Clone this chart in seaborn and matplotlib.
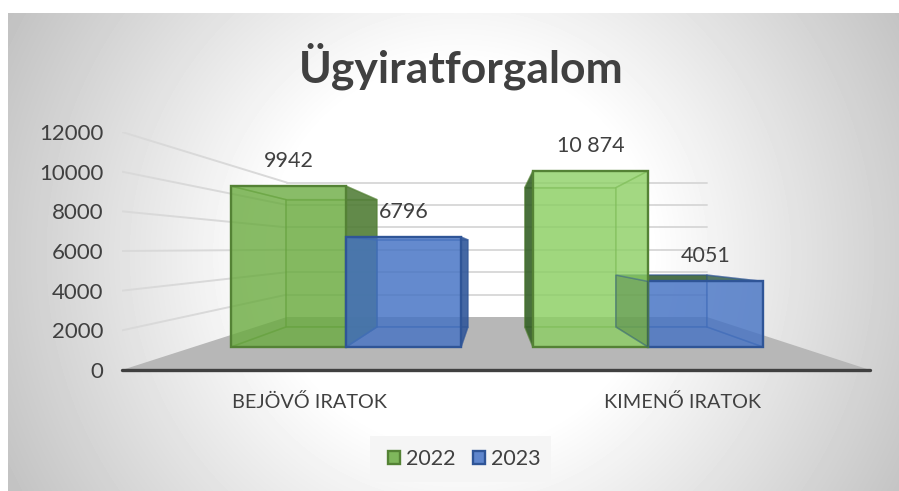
import numpy as np
import pandas as pd
import matplotlib
matplotlib.use("Agg")
import matplotlib.pyplot as plt
from matplotlib.patches import Polygon, Rectangle
from matplotlib.colors import to_rgb
import seaborn as sns

categories = ["BEJÖVŐ IRATOK", "KIMENŐ IRATOK"]
years = ["2022", "2023"]
values_2022 = [9942, 10874]
values_2023 = [6796, 4051]
labels_2022 = ["9942", "10 874"]
labels_2023 = ["6796", "4051"]
y_ticks = [0, 2000, 4000, 6000, 8000, 10000, 12000]
title = "Ügyiratforgalom"

W, H = 899, 491
FONT = "Lato"
TXT = "#404040"
sns.set_theme(style="white")
plt.rcParams["font.family"] = [FONT, "DejaVu Sans"]
fig = plt.figure(figsize=(W / 100, H / 100), dpi=100, facecolor="white")


def rect(x0, y_top, x1, y_bot):
    return [x0 / W, 1 - y_bot / H, (x1 - x0) / W, (y_bot - y_top) / H]


# chart-area background
ax_bg = fig.add_axes(rect(8, 13, 899, 491), zorder=0)
yy, xx = np.mgrid[13:491, 8:899]
r = np.hypot(xx - 460, yy - 255)
shade = 1 - 0.24 * np.clip((r - 190) / 320, 0, 1)
ax_bg.imshow(shade, cmap="gray", vmin=0, vmax=1, aspect="auto")
ax_bg.set_axis_off()

# axis with the printed scale, walls and floor
ax_wall = fig.add_axes(rect(122, 132, 870, 370), zorder=1)
ax_wall.patch.set_alpha(0)
ax_wall.set_xlim(-0.5, 1.5)
ax_wall.set_ylim(0, 12000)
back_x0, back_x1 = -0.059, 1.064


def back_y(v):
    return 2672 + 0.5648 * v


ax_wall.add_patch(Polygon([(-0.5, 0), (back_x0, back_y(0)), (back_x1, back_y(0)), (1.5, 0)],
                          facecolor="#b7b7b7", edgecolor="none", zorder=1))
for t in y_ticks[1:]:
    ax_wall.plot([-0.5, back_x0], [t, back_y(t)], color="#d9d9d9", lw=1.4, zorder=1)
    ax_wall.plot([back_x0, back_x1], [back_y(t), back_y(t)], color="#d9d9d9", lw=1.4, zorder=1)
ax_wall.set_yticks(y_ticks)
ax_wall.set_xticks([0, 1], categories)
ax_wall.tick_params(axis="y", length=0, pad=13.2, labelsize=16, labelcolor=TXT)
ax_wall.tick_params(axis="x", length=0, pad=17, labelsize=14.3, labelcolor=TXT)
for s in ["top", "left", "right"]:
    ax_wall.spines[s].set_visible(False)
ax_wall.spines["bottom"].set_color("#404040")
ax_wall.spines["bottom"].set_linewidth(2.4)
ax_wall.spines["bottom"].set_capstyle("round")
ax_wall.add_patch(Rectangle((370 / W, 1 - 482 / H), 181 / W, 46 / H, transform=fig.transFigure,
                            facecolor="#f5f5f5", edgecolor="none", clip_on=False, zorder=0))

# bars: a figure-wide transparent axes with the front-plane scale
ax = fig.add_axes([0, 0, 1, 1], zorder=2)
df = pd.DataFrame({
    "category": categories * 2,
    "year": [years[0]] * 2 + [years[1]] * 2,
    "value": values_2022 + values_2023,
})
sns.barplot(data=df, x="category", y="value", hue="year", palette=["#70AD47", "#4472C4"],
            width=0.762, gap=0, saturation=1, ax=ax, legend=True)
PX_X, PX_Y = 302.0, 0.01619
ax.set_xlim((0 - 346) / PX_X, (W - 346) / PX_X)
ax.set_ylim((347 - H) / PX_Y, 347 / PX_Y)
ax.set_axis_off()

k = 0.791
cx, cy = (494 - 346) / PX_X, (347 - 251) / PX_Y


def proj(x, y):
    return cx + (x - cx) * k, cy + (y - cy) * k


# per bar: front colour, edge, outside-side colour, outside-side alpha, draw order, side z
looks = [
    ("#6aab3f", "#548235", "#4e7a34", 0.85, 0, None),
    ("#4472c4", "#2f5597", "#2f5597", 0.85, 1, None),
    ("#8ccf63", "#548235", "#2f5a22", 0.85, 3, None),
    ("#4472c4", "#2f5597", "#2f5a22", 0.3, 2, 60),
]
bars = sorted([b for c in ax.containers for b in c], key=lambda b: b.get_x())
for b, (col, edge, side, side_a, order, side_z) in zip(bars, looks):
    x0, x1, top = b.get_x(), b.get_x() + b.get_width(), b.get_height()
    z = 10 + order * 10
    fr = {"tl": (x0, top), "tr": (x1, top), "bl": (x0, 0), "br": (x1, 0)}
    bk = {n: proj(*p) for n, p in fr.items()}

    def face(names, fc, alpha, zo):
        pts = [fr[n[1:]] if n[0] == "f" else bk[n[1:]] for n in names]
        ax.add_patch(Polygon(pts, closed=True, facecolor=to_rgb(fc) + (alpha,),
                             edgecolor=to_rgb(edge) + (0.45,), lw=1.1, zorder=zo))

    seen_from_above = bk["tl"][1] > top
    outside_right = x1 < cx
    outside_left = x0 > cx
    face(["btl", "btr", "bbr", "bbl"], col, 0.3, z)
    face(["fbl", "fbr", "bbr", "bbl"], col, 0.2, z + 1)
    face(["ftl", "ftr", "btr", "btl"], side if seen_from_above else col, 0.8 if seen_from_above else 0.15, z + 1)
    face(["ftl", "fbl", "bbl", "btl"], side if outside_left else col, side_a if outside_left else 0.2,
         side_z if side_z else z + 2)
    face(["ftr", "fbr", "bbr", "btr"], side if outside_right else col, side_a if outside_right else 0.2, z + 2)
    b.set_facecolor(to_rgb(col) + (0.75,))
    b.set_edgecolor(edge)
    b.set_linewidth(1.7)
    b.set_zorder(z + 3)

for xs, vals, labs in [(bars[0::2], values_2022, labels_2022), (bars[1::2], values_2023, labels_2023)]:
    for b, v, lab in zip(xs, vals, labs):
        ax.annotate(lab, (b.get_x() + b.get_width() / 2, v), xytext=(0, 18), textcoords="offset points",
                    ha="center", va="center", fontsize=15.5, color=TXT, zorder=100)

sns.move_legend(ax, loc="center", bbox_to_anchor=(464.5 / W, 1 - 459 / H), bbox_transform=fig.transFigure,
                ncol=2, title=None, frameon=False, fontsize=15.5, handlelength=0.55, handleheight=0.6,
                columnspacing=0.8, handletextpad=0.3, borderpad=0.6, labelcolor=TXT)
leg = ax.get_legend()
leg.set_zorder(100)
for h, c, e in zip(leg.get_patches(), ["#7fb75c", "#5f86cd"], ["#548235", "#2f5597"]):
    h.set_facecolor(c)
    h.set_edgecolor(e)
    h.set_linewidth(1.7)

fig.text(461.5 / W, 1 - 66 / H, title, ha="center", va="center", fontsize=32, fontweight="bold",
         color=TXT, zorder=10)
fig.savefig("out.png", dpi=100)
